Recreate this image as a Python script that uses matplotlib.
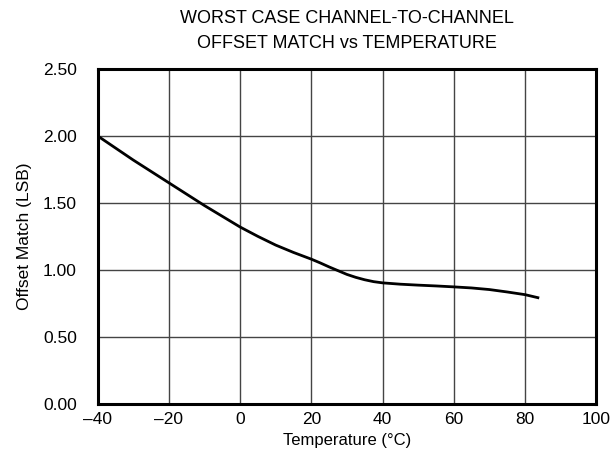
import matplotlib
matplotlib.use("Agg")
import matplotlib.pyplot as plt

temperature = [-40, -35, -30, -25, -20, -15, -10, -5, 0, 5, 10, 15, 20, 22.5, 25, 27.5, 30, 32.5, 35, 37.5, 40, 45, 50, 55, 60, 65, 70, 75, 80, 84]
offset_match = [2.00, 1.91, 1.82, 1.735, 1.65, 1.565, 1.48, 1.40, 1.32, 1.25, 1.185, 1.13, 1.08, 1.052, 1.022, 0.994, 0.966, 0.944, 0.926, 0.912, 0.903, 0.893, 0.886, 0.880, 0.873, 0.865, 0.853, 0.835, 0.815, 0.790]

x_ticks = [-40, -20, 0, 20, 40, 60, 80, 100]
x_tick_labels = ["\u201340", "\u201320", "0", "20", "40", "60", "80", "100"]
y_ticks = [0.0, 0.5, 1.0, 1.5, 2.0, 2.5]
y_tick_labels = ["0.00", "0.50", "1.00", "1.50", "2.00", "2.50"]

plt.rcParams['font.family'] = ['Liberation Sans', 'DejaVu Sans']

fig = plt.figure(figsize=(6.14, 4.69), dpi=100)
ax = fig.add_axes([0.159, 0.139, 0.812, 0.714])
ax.plot(temperature, offset_match, color='black', lw=2.0, solid_capstyle='butt',
        solid_joinstyle='round', zorder=3)
ax.set_xlim(-40, 100)
ax.set_ylim(0, 2.5)
ax.set_xticks(x_ticks)
ax.set_xticklabels(x_tick_labels)
ax.set_yticks(y_ticks)
ax.set_yticklabels(y_tick_labels)
ax.tick_params(axis='x', length=0, labelsize=12.5, pad=6)
ax.tick_params(axis='y', length=0, labelsize=12.5, pad=15)
ax.grid(True, color='#444444', lw=1.0)
for s in ax.spines.values():
    s.set_linewidth(2.2)
    s.set_color('black')
ax.set_xlabel("Temperature (\u00b0C)", fontsize=12, labelpad=4)
ax.set_ylabel("Offset Match (LSB)", fontsize=12.5, labelpad=8)
ax.set_title("WORST CASE CHANNEL-TO-CHANNEL\nOFFSET MATCH vs TEMPERATURE", fontsize=13, pad=15, linespacing=1.6)
fig.savefig("out.png", dpi=100)
